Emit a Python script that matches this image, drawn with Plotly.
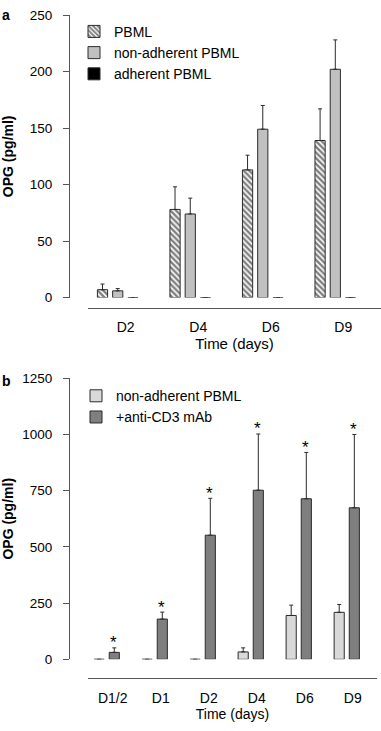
import plotly.graph_objects as go

# ---------------- data ----------------
days_a = ["D2", "D4", "D6", "D9"]
pbml = [7, 78, 113, 139]
pbml_sd = [5, 20, 13, 28]
nonadh_a = [6, 74, 149, 202]
nonadh_a_sd = [2, 14, 21, 26]
adh = [0, 0, 0, 0]
adh_sd = [0, 0, 0, 0]

days_b = ["D1/2", "D1", "D2", "D4", "D6", "D9"]
nonadh_b = [0, 0, 0, 33, 195, 209]
nonadh_b_sd = [0, 0, 0, 18, 46, 35]
cd3 = [31, 179, 552, 752, 714, 674]
cd3_sd = [20, 31, 164, 250, 206, 326]
cd3_sig = ["*", "*", "*", "*", "*", "*"]

ticks_a = [0, 50, 100, 150, 200, 250]
ticks_b = [0, 250, 500, 750, 1000, 1250]

# ---------------- layout helpers ----------------
W, H = 381, 731
FONT = "Liberation Sans, Arial, sans-serif"
OUT = "#2b2b2b"
AX = "#555555"

def px(x):
    return x / W

def py(y):
    return 1 - y / H

gap_a = 0.37
gap_b = 0.44

xa = list(range(len(days_a)))
xb = list(range(len(days_b)))

def err(sd, col=OUT):
    return dict(type="data", symmetric=False, array=sd, arrayminus=[0] * len(sd),
                color=col, thickness=1, width=2)

fig = go.Figure()

fig.add_trace(go.Bar(
    x=xa, y=pbml, name="PBML", error_y=err(pbml_sd),
    marker=dict(color="white", line=dict(color=OUT, width=1),
                pattern=dict(shape="\\", fgcolor="black", bgcolor="white", size=4, solidity=0.6)),
    xaxis="x", yaxis="y", legend="legend", legendgroup="a1"))
fig.add_trace(go.Bar(
    x=xa, y=nonadh_a, name="non-adherent PBML", error_y=err(nonadh_a_sd),
    marker=dict(color="#c0c0c0", line=dict(color=OUT, width=1)),
    xaxis="x", yaxis="y", legend="legend", legendgroup="a2"))
fig.add_trace(go.Bar(
    x=xa, y=adh, name="adherent PBML", error_y=err(adh_sd),
    marker=dict(color="black", line=dict(color=OUT, width=1)),
    xaxis="x", yaxis="y", legend="legend", legendgroup="a3"))

fig.add_trace(go.Bar(
    x=xb, y=nonadh_b, name="non-adherent PBML", error_y=err(nonadh_b_sd),
    marker=dict(color="#d9d9d9", line=dict(color=OUT, width=1)),
    xaxis="x2", yaxis="y2", legend="legend2", legendgroup="b1"))
fig.add_trace(go.Bar(
    x=xb, y=cd3, name="+anti-CD3 mAb", error_y=err(cd3_sd),
    marker=dict(color="#7f7f7f", line=dict(color=OUT, width=1)),
    xaxis="x2", yaxis="y2", legend="legend2", legendgroup="b2"))

# significance stars above the anti-CD3 error bars
slot_b = (1 - gap_b) / 2
star_ann = [
    dict(text=s, x=i + slot_b / 2, y=v + e, xref="x2", yref="y2", showarrow=False,
         yanchor="middle", xanchor="center", yshift=5,
         font=dict(family=FONT, size=17, color="black"))
    for i, v, e, s in zip(xb, cd3, cd3_sd, cd3_sig)
]

axis_font_x = dict(family=FONT, size=14, color="black")
axis_font_y = dict(family=FONT, size=13.5, color="black")

fig.update_layout(
    width=W, height=H, margin=dict(l=0, r=0, t=0, b=0),
    paper_bgcolor="white", plot_bgcolor="white",
    barmode="group", bargap=gap_a, bargroupgap=0.33,
    font=dict(family=FONT, size=14, color="black"),
    xaxis=dict(domain=[px(88), 1.0], anchor="free", position=py(307),
               range=[-0.41, 3.63], tickvals=[i + 0.11 for i in xa], ticktext=days_a,
               showline=True, linecolor=AX, linewidth=1, ticks="", showgrid=False,
               zeroline=False, tickfont=axis_font_x, ticklabelstandoff=6,
               title=dict(text="Time (days)", font=dict(family=FONT, size=15), standoff=3)),
    yaxis=dict(domain=[py(296.7), py(8.2)], anchor="free", position=px(69),
               range=[0, 250], tickvals=ticks_a, showline=True, linecolor=AX, linewidth=1,
               ticks="outside", ticklen=6, tickcolor=AX, showgrid=False, zeroline=False,
               tickfont=axis_font_y, ticklabelstandoff=8,
               title=dict(text="<b>OPG (pg/ml)</b>", font=dict(family=FONT, size=14), standoff=14)),
    xaxis2=dict(domain=[px(88), px(377)], anchor="free", position=py(685),
                range=[-0.39, 5.63], tickvals=[i + 0.125 for i in xb], ticktext=days_b,
                showline=True, linecolor=AX, linewidth=1, ticks="", showgrid=False,
                zeroline=False, tickfont=axis_font_x, ticklabelstandoff=7,
                title=dict(text="Time (days)", font=dict(family=FONT, size=14), standoff=3)),
    yaxis2=dict(domain=[py(666), py(379)], anchor="free", position=px(69),
                range=[0, 1250], tickvals=ticks_b, showline=True, linecolor=AX, linewidth=1,
                ticks="outside", ticklen=6, tickcolor=AX, showgrid=False, zeroline=False,
                tickfont=axis_font_y, ticklabelstandoff=8,
                title=dict(text="<b>OPG (pg/ml)</b>", font=dict(family=FONT, size=14), standoff=6)),
    legend=dict(x=px(74), y=py(9), xanchor="left", yanchor="top", bgcolor="rgba(0,0,0,0)",
                font=dict(family=FONT, size=14), tracegroupgap=5, traceorder="normal"),
    legend2=dict(x=px(76), y=py(381), xanchor="left", yanchor="top", bgcolor="rgba(0,0,0,0)",
                 font=dict(family=FONT, size=14), tracegroupgap=4, traceorder="normal"),
    annotations=[
        dict(text="<b>a</b>", x=0.0, y=1.0, xref="paper", yref="paper", xanchor="left",
             yanchor="top", showarrow=False, font=dict(family=FONT, size=14), yshift=2),
        dict(text="<b>b</b>", x=0.0, y=py(372), xref="paper", yref="paper", xanchor="left",
             yanchor="top", showarrow=False, font=dict(family=FONT, size=14)),
    ] + star_ann,
)

fig.write_html("out.html", config={"displayModeBar": False},
               post_script="document.body.style.margin='0';")
